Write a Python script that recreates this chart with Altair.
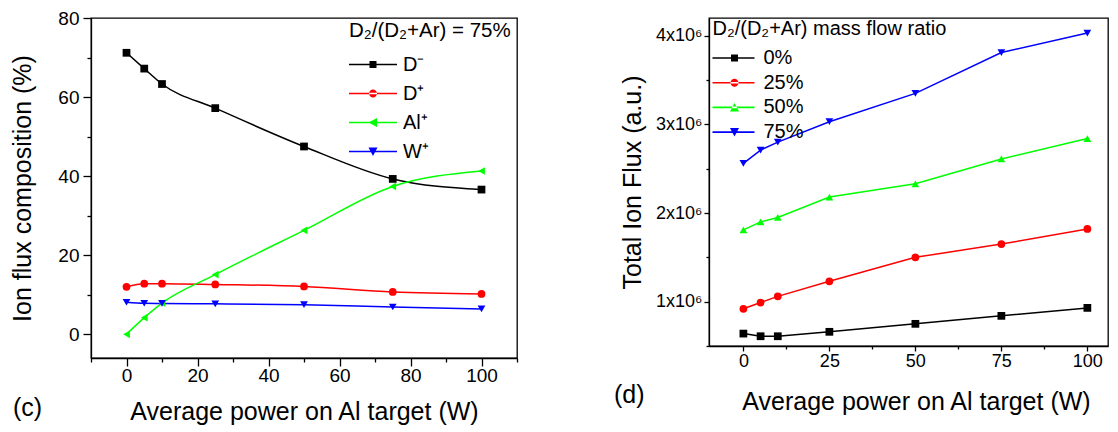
import altair as alt
import pandas as pd

FONT = "Liberation Sans"

# ---------------- data ----------------
power = [0, 5, 10, 25, 50, 75, 100]

# panel (c): ion flux composition (%) at D2/(D2+Ar) = 75%
ions = ["D⁻", "D⁺", "Al⁺", "W⁺"]
d_minus = [71.2, 67.2, 63.3, 57.2, 47.5, 39.3, 36.6]
d_plus = [12.0, 12.8, 12.8, 12.6, 12.1, 10.7, 10.2]
al_plus = [0.0, 4.2, 7.9, 15.1, 26.3, 37.4, 41.3]
w_plus = [8.1, 7.85, 7.8, 7.7, 7.5, 6.9, 6.4]

# panel (d): total ion flux (a.u.)
ratios = ["0%", "25%", "50%", "75%"]
flux_0 = [0.64e6, 0.61e6, 0.61e6, 0.66e6, 0.75e6, 0.84e6, 0.93e6]
flux_25 = [0.92e6, 0.99e6, 1.06e6, 1.23e6, 1.50e6, 1.65e6, 1.82e6]
flux_50 = [1.81e6, 1.90e6, 1.95e6, 2.18e6, 2.33e6, 2.61e6, 2.84e6]
flux_75 = [2.56e6, 2.71e6, 2.80e6, 3.03e6, 3.35e6, 3.81e6, 4.03e6]

# tick values
c_xticks = [-10, 0, 10, 20, 30, 40, 50, 60, 70, 80, 90, 100, 110]
c_yticks = [0, 10, 20, 30, 40, 50, 60, 70, 80]
d_xticks = [0, 12.5, 25, 37.5, 50, 62.5, 75, 87.5, 100]
d_yticks = [5e5, 1e6, 1.5e6, 2e6, 2.5e6, 3e6, 3.5e6, 4e6]

panel_tags = ["(c)", "(d)"]

# ---------------- styles ----------------
colors = ["#000000", "#ff0000", "#00ff00", "#0000ff"]
c_markers = ["square", "circle", "triangle-left", "triangle-down"]
d_markers = ["square", "circle", "triangle-up", "triangle-down"]

# legend symbols: line segment + marker (custom paths, r = 5 px units)
c_leg_paths = [
    "M-2,-0.16H7.6V0.16H-2Z M2.1,-0.7H3.5V0.7H2.1Z",
    "M-2,-0.16H7.6V0.16H-2Z M2.0,0A0.8,0.8,0,1,0,3.6,0A0.8,0.8,0,1,0,2.0,0Z",
    "M-2,-0.16H7.6V0.16H-2Z M1.9,0L3.6,-0.9L3.6,0.9Z",
    "M-2,-0.16H7.6V0.16H-2Z M1.9,-0.8L3.7,-0.8L2.8,0.9Z",
]
d_leg_paths = [
    "M-2,-0.16H6.4V0.16H-2Z M1.7,-0.7H3.1V0.7H1.7Z",
    "M-2,-0.16H6.4V0.16H-2Z M1.6,0A0.8,0.8,0,1,0,3.2,0A0.8,0.8,0,1,0,1.6,0Z",
    "M-2,-0.16H6.4V0.16H-2Z M1.5,0.8L3.3,0.8L2.4,-0.9Z",
    "M-2,-0.16H6.4V0.16H-2Z M1.5,-0.8L3.3,-0.8L2.4,0.9Z",
]


def long_df(names, series, cols, markers):
    rows = []
    for name, vals, c, m in zip(names, series, cols, markers):
        for xv, yv in zip(power, vals):
            rows.append({"x": xv, "y": yv, "s": name, "col": c, "mk": m})
    return pd.DataFrame(rows)


df_c = long_df(ions, [d_minus, d_plus, al_plus, w_plus], colors, c_markers)
df_d = long_df(ratios, [flux_0, flux_25, flux_50, flux_75], colors, d_markers)


def panel(df, names, leg_paths, leg_props, xdom, ydom, x_axis, y_axis,
          w, h, interp, tag, tag_x, tag_y):
    x = alt.X("x:Q", scale=alt.Scale(domain=xdom, nice=False, zero=False), axis=x_axis)
    y = alt.Y("y:Q", scale=alt.Scale(domain=ydom, nice=False, zero=False), axis=y_axis)
    base = alt.Chart(df)
    lines = base.mark_line(interpolate=interp, strokeWidth=1.5).encode(
        x=x, y=y, detail="s:N", color=alt.Color("col:N", scale=None)
    )
    points = base.mark_point(filled=True, opacity=1, size=60, strokeWidth=0).encode(
        x=x, y=y,
        fill=alt.Fill("col:N", scale=None),
        shape=alt.Shape("mk:N", scale=None),
    )
    leg = alt.Legend(**leg_props)
    legend_layer = base.mark_point(filled=True, opacity=1, size=100).encode(
        color=alt.Color("s:N", scale=alt.Scale(domain=names, range=colors), legend=leg),
        shape=alt.Shape("s:N", scale=alt.Scale(domain=names, range=leg_paths), legend=leg),
    ).transform_filter("false")
    tag_layer = alt.Chart(pd.DataFrame({"t": [tag]})).mark_text(
        align="left", baseline="middle", fontSize=25, font=FONT, color="black"
    ).encode(text="t:N", x=alt.value(tag_x), y=alt.value(tag_y))
    return alt.layer(lines, points, legend_layer, tag_layer).properties(width=w, height=h)


common_leg = dict(orient="none", direction="vertical", padding=0, symbolSize=100,
                  symbolStrokeWidth=0, symbolOpacity=1, titleFont=FONT, labelFont=FONT,
                  titleFontWeight="normal", titleColor="black", labelColor="black",
                  titleLimit=400, labelLimit=200)

left = panel(
    df_c, ions, c_leg_paths,
    dict(title="D₂/(D₂+Ar) = 75%", legendX=258, legendY=3, titleFontSize=20.5,
         titlePadding=13, labelFontSize=20, labelOffset=34, rowPadding=9, **common_leg),
    [-10, 110], [-6, 80],
    alt.Axis(values=c_xticks, labelExpr="datum.value % 20 === 0 ? datum.label : ''",
             tickSize={"condition": {"test": "datum.value % 20 === 0", "value": 8}, "value": 4},
             labelFontSize=19, labelPadding=0, title="Average power on Al target (W)",
             titleFontSize=25, titlePadding=14),
    alt.Axis(values=c_yticks, labelExpr="datum.value % 20 === 0 ? datum.label : ''",
             tickSize={"condition": {"test": "datum.value % 20 === 0", "value": 8}, "value": 4},
             labelFontSize=19, labelPadding=4, title="Ion flux composition (%)",
             titleFontSize=25, titlePadding=22),
    426, 340, "monotone", panel_tags[0], -78, 390,
)

right = panel(
    df_d, ratios, d_leg_paths,
    dict(title="D₂/(D₂+Ar) mass flow ratio", legendX=3.5, legendY=1, titleFontSize=20,
         titlePadding=9, labelFontSize=20, labelOffset=31, rowPadding=4.7, **common_leg),
    [-10, 106], [5e5, 4.2e6],
    alt.Axis(values=d_xticks, labelExpr="datum.value % 25 === 0 ? datum.label : ''",
             tickSize={"condition": {"test": "datum.value % 25 === 0", "value": 5}, "value": 3},
             labelFontSize=18, labelPadding=1, title="Average power on Al target (W)",
             titleFontSize=25, titlePadding=19, titleX=207),
    alt.Axis(values=d_yticks,
             labelExpr="datum.value % 1000000 === 0 ? format(datum.value / 1000000, 'd') + 'x10⁶' : ''",
             tickSize={"condition": {"test": "datum.value % 1000000 === 0", "value": 5}, "value": 3},
             labelFontSize=18, labelPadding=2, title="Total Ion Flux (a.u.)",
             titleFontSize=25, titlePadding=10),
    399, 328, "linear", panel_tags[1], -95, 377,
)

chart = alt.hconcat(left, right, spacing=192, bounds="flush").resolve_scale(
    color="independent", shape="independent"
).resolve_legend(
    color="independent", shape="independent"
).properties(
    padding={"left": 2, "top": 0, "right": 0, "bottom": 0}
).configure(
    background="white", font=FONT
).configure_view(
    stroke="black", strokeWidth=1.3
).configure_axis(
    grid=False, domainColor="black", domainWidth=1.3, tickColor="black", tickWidth=1.3,
    labelColor="black", titleColor="black", labelFont=FONT, titleFont=FONT,
    titleFontWeight="normal", labelFlush=False, labelOverlap=False
)

chart.save("out.html", embed_options={"renderer": "svg", "actions": False})
